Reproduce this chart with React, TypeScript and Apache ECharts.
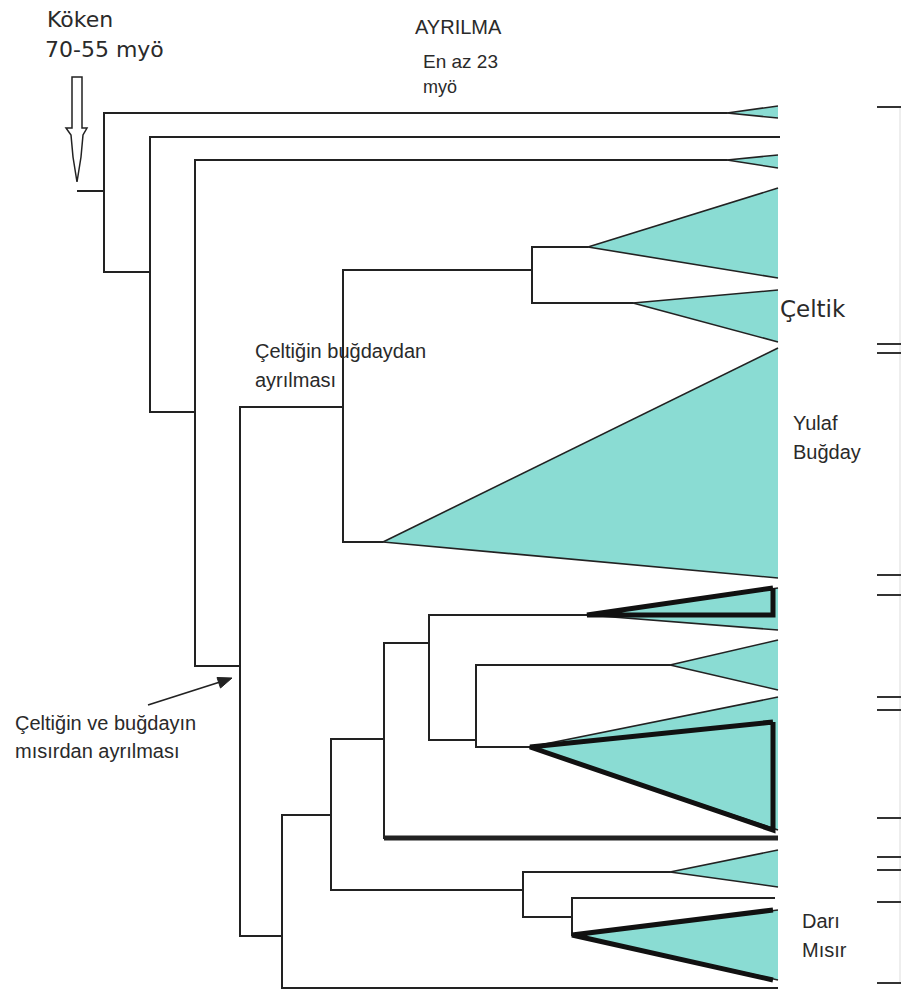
import React, { useEffect, useRef } from "react";
import * as echarts from "echarts";

// ---- Cladogram data (depth on x, taxon position on y, in page units) ----
// Internal nodes
const nodeDepth = [104, 150, 195, 240, 343, 532, 282, 331, 384, 429, 476, 523, 572];
const nodeTop = [113, 137, 160, 407, 270, 247, 815, 739, 643, 615, 665, 872, 898];
const nodeBottom = [272, 412, 666, 936, 542, 303, 988, 890, 838, 740, 747, 917, 935];

// Branches leaving each node: parent node, y, where the branch ends
const branchParent = [0, 0, 1, 1, 2, 2, 3, 3, 4, 4, 5, 5, 6, 6, 7, 7, 8, 8, 9, 9, 10, 10, 11, 11, 12];
const branchY = [113, 272, 137, 412, 160, 666, 407, 936, 270, 542, 247, 303, 815, 988, 739, 890, 643, 838, 615, 740, 665, 747, 872, 917, 898];
const branchEnd = [727, 150, 780, 195, 727, 240, 343, 282, 532, 383, 588, 633, 331, 778, 384, 523, 429, 778, 587, 476, 670, 530, 670, 572, 775];
const boldBranches = [17];

// Root stem
const rootStemFrom = 77;
const rootStemY = 191;

// Collapsed clades (triangles)
const cladeApexX = [727, 727, 588, 633, 383, 587, 670, 530, 670, 572];
const cladeApexY = [113, 160, 247, 303, 542, 615, 665, 747, 872, 935];
const cladeTop = [106, 155, 188, 290, 348, 588, 640, 697, 850, 910];
const cladeBottom = [118, 168, 278, 342, 578, 630, 690, 830, 887, 980];
const cladeTipX = 778;

// Highlighted sub-clades (bold outlines)
const boldClade = [5, 7, 9];
const boldTop = [588, 722, 910];
const boldBottom = [615, 830, 980];
const boldClosed = [true, true, false];
const boldTipX = 773;

// Group brackets on the right
const bracketY = [107, 344, 353, 575, 595, 697, 710, 818, 857, 870, 902, 983];

const TEAL = "#8adcd3";
const INK = "#222";

export default function App() {
  const ref = useRef<HTMLDivElement>(null);

  useEffect(() => {
    const chart = echarts.init(ref.current!, null, { renderer: "svg" });

    const cladeData = cladeApexX.map((x, i) => [x, cladeApexY[i], cladeTop[i], cladeBottom[i]]);
    const branchData = branchY.map((y, i) => [nodeDepth[branchParent[i]], y, branchEnd[i], i]);
    branchData.push([rootStemFrom, rootStemY, nodeDepth[0], -1]);
    const normalBranches = branchData.filter((d) => !boldBranches.includes(d[3]));
    const thickBranches = branchData.filter((d) => boldBranches.includes(d[3]));
    const verticalData = nodeDepth.map((x, i) => [x, nodeTop[i], nodeBottom[i]]);
    const boldData = boldClade.map((c, i) => [cladeApexX[c], cladeApexY[c], boldTop[i], boldBottom[i], boldClosed[i] ? 1 : 0]);
    const bracketData = bracketY.map((y) => [y]);

    const hLine = (width: number) => (params: any, api: any) => {
      const a = api.coord([api.value(0), api.value(1)]);
      const b = api.coord([api.value(2), api.value(1)]);
      return {
        type: "line",
        shape: { x1: a[0], y1: a[1], x2: b[0], y2: b[1] },
        style: { stroke: INK, lineWidth: width },
      };
    };

    const text = (t: string, x: number, y: number, font: string) => ({
      type: "text",
      x,
      y,
      style: { text: t, font, fill: "#2a2a2a", textVerticalAlign: "middle" },
    });

    const option: any = {
      animation: false,
      backgroundColor: "#ffffff",
      grid: { left: 0, right: 0, top: 0, bottom: 0 },
      xAxis: { type: "value", min: 0, max: 901, show: false },
      yAxis: { type: "value", min: 0, max: 994, inverse: true, show: false },
      series: [
        {
          type: "custom",
          name: "clades",
          data: cladeData,
          silent: true,
          renderItem: (params: any, api: any) => {
            const apex = api.coord([api.value(0), api.value(1)]);
            const t = api.coord([cladeTipX, api.value(2)]);
            const b = api.coord([cladeTipX, api.value(3)]);
            return {
              type: "group",
              children: [
                { type: "polygon", shape: { points: [apex, t, b] }, style: { fill: TEAL, stroke: null } },
                { type: "line", shape: { x1: apex[0], y1: apex[1], x2: t[0], y2: t[1] }, style: { stroke: INK, lineWidth: 1.6 } },
                { type: "line", shape: { x1: apex[0], y1: apex[1], x2: b[0], y2: b[1] }, style: { stroke: INK, lineWidth: 1.6 } },
              ],
            };
          },
        },
        {
          type: "custom",
          name: "branches",
          data: normalBranches,
          silent: true,
          renderItem: hLine(2),
        },
        {
          type: "custom",
          name: "highlighted branch",
          data: thickBranches,
          silent: true,
          renderItem: hLine(5),
        },
        {
          type: "custom",
          name: "nodes",
          data: verticalData,
          silent: true,
          renderItem: (params: any, api: any) => {
            const a = api.coord([api.value(0), api.value(1)]);
            const b = api.coord([api.value(0), api.value(2)]);
            return {
              type: "line",
              shape: { x1: a[0], y1: a[1] - 1, x2: b[0], y2: b[1] + 1 },
              style: { stroke: INK, lineWidth: 2 },
            };
          },
        },
        {
          type: "custom",
          name: "highlighted clades",
          data: boldData,
          silent: true,
          renderItem: (params: any, api: any) => {
            const apex = api.coord([api.value(0), api.value(1)]);
            const t = api.coord([boldTipX, api.value(2)]);
            const b = api.coord([boldTipX, api.value(3)]);
            const closed = api.value(4) === 1;
            const pts = closed ? [t, apex, b, t] : [t, apex, b];
            return {
              type: "polyline",
              shape: { points: pts },
              style: { stroke: "#111", lineWidth: 5, fill: null, lineJoin: "miter" },
            };
          },
        },
        {
          type: "custom",
          name: "brackets",
          data: bracketData,
          silent: true,
          renderItem: (params: any, api: any) => {
            const a = api.coord([877, api.value(0)]);
            const b = api.coord([901, api.value(0)]);
            return {
              type: "line",
              shape: { x1: a[0], y1: a[1], x2: b[0], y2: b[1] },
              style: { stroke: "#333", lineWidth: 2 },
            };
          },
        },
      ],
      graphic: [
        {
          type: "line",
          shape: { x1: 900, y1: bracketY[0], x2: 900, y2: bracketY[bracketY.length - 1] },
          style: { stroke: "#ddd", lineWidth: 1 },
        },
        {
          type: "polygon",
          shape: {
            points: [
              [72, 77], [82, 77], [82, 128], [87, 128], [83, 135], [81, 157], [77, 182],
              [73, 157], [71, 135], [66, 128], [72, 128],
            ],
          },
          style: { fill: "#fff", stroke: "#222", lineWidth: 1.5 },
        },
        {
          type: "line",
          shape: { x1: 148, y1: 705, x2: 220, y2: 682 },
          style: { stroke: "#222", lineWidth: 1.8 },
        },
        {
          type: "polygon",
          shape: { points: [[232, 678], [217, 677.5], [220.5, 688]] },
          style: { fill: "#222", stroke: "#222", lineWidth: 1 },
        },
        text("Köken", 47, 19, "22px 'DejaVu Sans'"),
        text("70-55 myö", 45, 49, "22px 'DejaVu Sans'"),
        text("AYRILMA", 415, 27, "20px 'Liberation Sans'"),
        text("En az 23", 423, 61, "19px 'Liberation Sans'"),
        text("myö", 423, 87, "18px 'Liberation Sans'"),
        text("Çeltik", 780, 309, "23px 'DejaVu Sans'"),
        text("Çeltiğin buğdaydan", 255, 351, "20px 'Liberation Sans'"),
        text("ayrılması", 255, 380, "20px 'Liberation Sans'"),
        text("Yulaf", 793, 423, "20px 'Liberation Sans'"),
        text("Buğday", 793, 452, "20px 'Liberation Sans'"),
        text("Çeltiğin ve buğdayın", 15, 723, "20px 'Liberation Sans'"),
        text("mısırdan ayrılması", 15, 751, "20px 'Liberation Sans'"),
        text("Darı", 802, 921, "20px 'Liberation Sans'"),
        text("Mısır", 802, 950, "20px 'Liberation Sans'"),
      ],
    };

    chart.setOption(option);
    return () => chart.dispose();
  }, []);

  return (
    <div
      ref={ref}
      style={{ position: "absolute", left: 0, top: 0, width: 901, height: 994, background: "#fff" }}
    />
  );
}
